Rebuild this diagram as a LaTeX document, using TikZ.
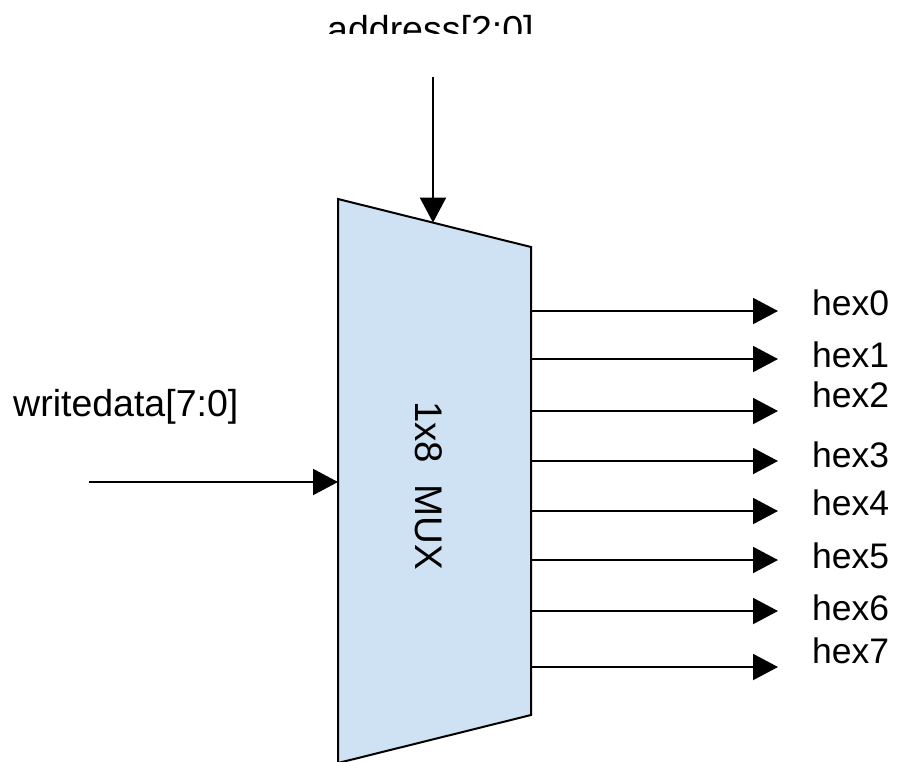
\documentclass[tikz,border=0pt]{standalone}
\usepackage{fontspec}
\setmainfont{Liberation Sans}
\usetikzlibrary{arrows.meta}
\definecolor{muxfill}{HTML}{CFE2F3}
\tikzset{
  wire/.style={line width=2pt, -{Triangle[length=25pt,width=26pt]}},
  lbl/.style={anchor=base west, inner sep=0pt, font=\fontsize{37.5}{40}\selectfont},
  outlbl/.style={anchor=base west, inner sep=0pt, font=\fontsize{35.5}{40}\selectfont},
  muxbody/.style={fill=muxfill, draw=black, line width=2pt, line join=miter}
}
\begin{document}
\begin{tikzpicture}[x=1pt, y=-1pt]
\useasboundingbox (0,0) rectangle (897,761);
\clip (0,0) rectangle (897,761);

% multiplexer body
\draw[muxbody] (338,199) coordinate (m-tl) -- (531,247) coordinate (m-tr)
  -- (531,715) coordinate (m-br) -- (338,763) coordinate (m-bl) -- cycle;
\node[anchor=base west, inner sep=0pt, rotate=-90,
      font=\fontsize{38.5}{40}\selectfont] (muxtxt) at (415,401) {1x8\ \ MUX};

% address input (label cut by the top edge)
\begin{scope}
  \clip (0,0) rectangle (897,33);
  \node[lbl] (addr) at (327,42) {address[2:0]};
\end{scope}
\coordinate (addr-src) at (433,77);
\coordinate (addr-dst) at (433,222.6);
\draw[wire] (addr-src) -- (addr-dst);

% data input
\node[lbl] (wd) at (13,416) {writedata[7:0]};
\coordinate (wd-src) at (89,482);
\coordinate (wd-dst) at (338,482);
\draw[wire] (wd-src) -- (wd-dst);

% outputs
\foreach \i/\ya/\yb in {0/311/315, 1/359/367, 2/411/407, 3/461/467,
                        4/511/515, 5/560/568, 6/611/620, 7/667/663} {
  \coordinate (o\i-src) at (531,\ya);
  \coordinate (o\i-dst) at (778,\ya);
  \draw[wire] (o\i-src) -- (o\i-dst);
  \node[outlbl] (hex\i) at (812,\yb) {hex\i};
}
\end{tikzpicture}
\end{document}
